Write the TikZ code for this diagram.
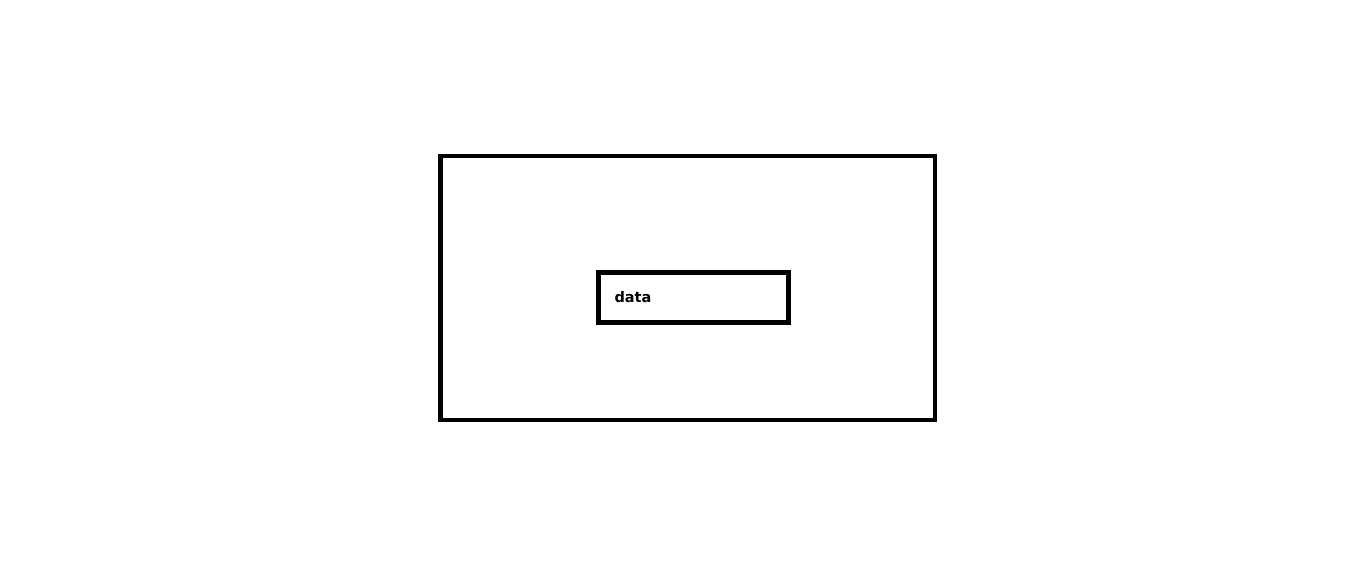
\documentclass[tikz,border=0pt]{standalone}
\usepackage{fontspec}
\setmainfont{DejaVu Sans}
\usepackage{tikz}

\begin{document}
\begin{tikzpicture}[x=1pt,y=1pt,
  frame/.style={draw,line width=4.5pt,inner sep=0pt},
  label/.style={font=\bfseries\fontsize{14.5}{17}\selectfont}]
  \useasboundingbox (0,0) rectangle (1360,587);
  \node[frame,minimum width=494.5pt,minimum height=264pt] (outer) at (687.75,299) {};
  \node[frame,label,minimum width=190pt,minimum height=50pt,
        text width=158pt,inner xsep=16pt,align=left] (data) at (693.5,289.5) {data};
\end{tikzpicture}
\end{document}
